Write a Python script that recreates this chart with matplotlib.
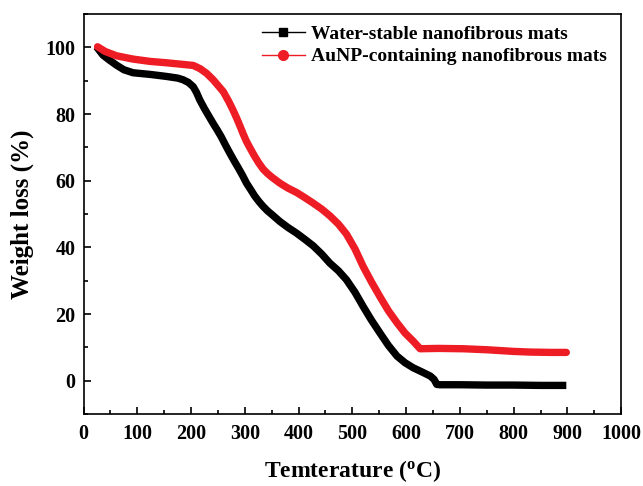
import matplotlib
matplotlib.use("Agg")
import matplotlib.pyplot as plt
from matplotlib.lines import Line2D
from matplotlib.ticker import MultipleLocator

# Data
water_temp = [24, 36, 48, 61, 75, 92, 124, 154, 175, 185, 195, 204, 210, 216, 225, 233, 241, 248, 256, 264,
              272, 280, 288, 296, 303, 311, 318, 326, 334, 342, 350, 365, 380, 396, 411, 427, 443, 458, 474, 489,
              505, 520, 535, 551, 567, 583, 598, 613, 630, 645, 652, 657, 663, 700, 750, 800, 850, 898]
water_weight = [100.2, 97.7, 96.2, 94.7, 93.3, 92.4, 91.9, 91.3, 90.8, 90.3, 89.5, 88.2, 86.5, 84.3, 81.6, 79.4, 77.2, 75.4, 73.2, 70.7,
                68.3, 66.0, 63.8, 61.5, 59.3, 57.3, 55.5, 53.8, 52.3, 51.0, 49.9, 47.8, 46.0, 44.3, 42.5, 40.5, 38.0, 35.3, 33.0, 30.3,
                26.5, 22.3, 18.3, 14.4, 10.6, 7.4, 5.4, 3.9, 2.6, 1.4, 0.4, -1.1, -1.2, -1.2, -1.3, -1.3, -1.4, -1.4]

aunp_temp = [26, 40, 61, 92, 124, 154, 185, 204, 217, 229, 241, 250, 260, 270, 278, 285, 291, 297, 303, 310,
             318, 326, 334, 342, 350, 365, 380, 396, 411, 427, 443, 458, 474, 489, 505, 520, 535, 551, 567, 583,
             598, 613, 626, 660, 706, 750, 800, 831, 870, 898]
aunp_weight = [100.2, 98.8, 97.5, 96.5, 95.8, 95.4, 94.9, 94.6, 93.6, 92.2, 90.3, 88.6, 86.7, 83.8, 81.2, 78.7, 76.4, 74.0, 71.8, 69.7,
               67.4, 65.3, 63.5, 62.2, 61.1, 59.3, 57.8, 56.5, 55.0, 53.3, 51.5, 49.5, 47.0, 44.0, 39.5, 34.3, 29.8, 25.3, 21.0, 17.4,
               14.3, 11.9, 9.6, 9.7, 9.6, 9.3, 8.8, 8.6, 8.5, 8.5]

labels = ["Water-stable nanofibrous mats", "AuNP-containing nanofibrous mats"]
colors = ["#000000", "#ee1c24"]

plt.rcParams['font.family'] = ['Liberation Serif', 'DejaVu Serif']
plt.rcParams['font.weight'] = 'bold'
plt.rcParams['mathtext.fontset'] = 'custom'
plt.rcParams['mathtext.rm'] = 'Liberation Serif:bold'
plt.rcParams['mathtext.bf'] = 'Liberation Serif:bold'

fig = plt.figure(figsize=(6.43, 4.86), dpi=100)
ax = fig.add_axes([0.130, 0.148, 0.836, 0.823])

ax.plot(water_temp, water_weight, color=colors[0], lw=5.3, solid_capstyle='butt', solid_joinstyle='round')
ax.plot(aunp_temp, aunp_weight, color=colors[1], lw=5.3, solid_capstyle='round', solid_joinstyle='round')

ax.set_xlim(0, 1000)
ax.set_ylim(-10, 110)
ax.xaxis.set_major_locator(MultipleLocator(100))
ax.xaxis.set_minor_locator(MultipleLocator(50))
ax.set_yticks([0, 20, 40, 60, 80, 100])
ax.yaxis.set_minor_locator(MultipleLocator(10))
ax.tick_params(which='both', direction='in', top=False, right=False, width=1.2)
ax.tick_params(which='major', length=5, labelsize=14.5)
ax.tick_params(axis='x', which='major', pad=7)
ax.tick_params(axis='y', which='major', pad=6)
ax.tick_params(which='minor', length=3)
for lab in ax.get_xticklabels() + ax.get_yticklabels():
    lab.set_fontweight('bold')
for s in ax.spines.values():
    s.set_linewidth(1.2)

ax.set_xlabel(r'Temterature ($\mathregular{^o}$C)', fontsize=17, fontweight='bold', labelpad=10)
ax.set_ylabel('Weight loss (%)', fontsize=18, fontweight='bold', labelpad=8)

handles = [
    Line2D([], [], color=colors[0], lw=1, marker='s', markersize=6),
    Line2D([], [], color=colors[1], lw=1, marker='o', markersize=7),
]
ax.legend(handles, labels, loc='upper left', bbox_to_anchor=(262/643, 1 - 25/486),
          bbox_transform=fig.transFigure, frameon=False, borderpad=0, borderaxespad=0,
          handlelength=2.2, handletextpad=0.3, labelspacing=0.27,
          prop={'family': 'Liberation Serif', 'weight': 'bold', 'size': 14})

fig.savefig('out.png', dpi=100)
